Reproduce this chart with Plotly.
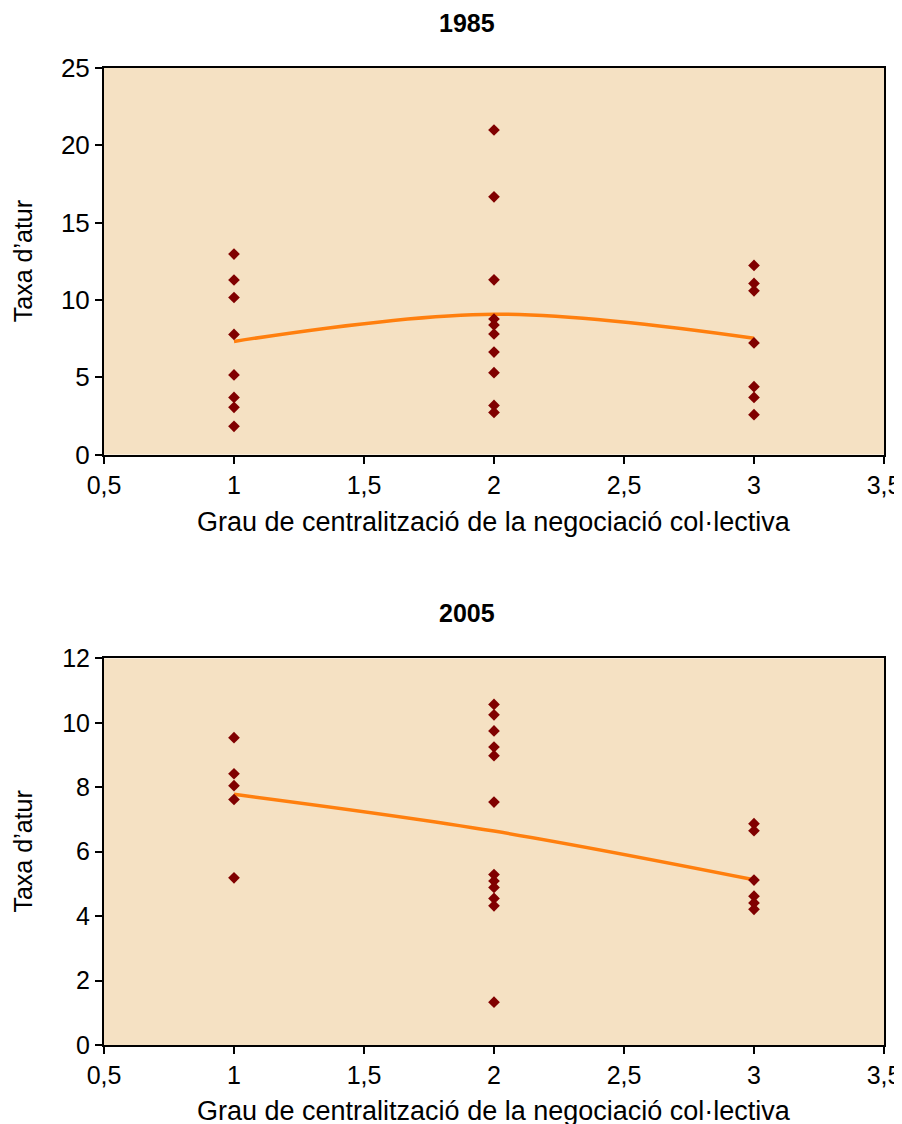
import plotly.graph_objects as go
from plotly.subplots import make_subplots

# 1985 data
x85 = [1]*8 + [2]*10 + [3]*7
y85 = [12.97, 11.29, 10.16, 7.77, 5.15, 3.70, 3.06, 1.83,
       20.99, 16.67, 11.30, 8.77, 8.38, 7.80, 6.63, 5.30, 3.18, 2.73,
       12.23, 11.07, 10.59, 7.22, 4.39, 3.70, 2.58]
trend_x85 = [1, 2, 3]
trend_y85 = [7.32, 9.08, 7.52]

# 2005 data
x05 = [1]*5 + [2]*12 + [3]*6
y05 = [9.54, 8.42, 8.05, 7.62, 5.19,
       10.57, 10.25, 9.75, 9.25, 8.98, 7.54, 5.29, 5.09, 4.89, 4.55, 4.32, 1.33,
       6.87, 6.65, 5.12, 4.62, 4.41, 4.21]
trend_x05 = [1, 2, 3]
trend_y05 = [7.78, 6.64, 5.13]

x_ticks = [0.5, 1, 1.5, 2, 2.5, 3, 3.5]
y_ticks85 = [0, 5, 10, 15, 20, 25]
y_ticks05 = [0, 2, 4, 6, 8, 10, 12]

titles = ["1985", "2005"]
x_title = "Grau de centralització de la negociació col·lectiva"
y_title = "Taxa d’atur"

BG = "#F5E1C3"
MK = "#800000"
LN = "#FF7F0E"
FONT = "Liberation Sans, Arial, sans-serif"

fig = make_subplots(rows=2, cols=1)

for row, (xs, ys, tx, ty) in enumerate([(x85, y85, trend_x85, trend_y85),
                                        (x05, y05, trend_x05, trend_y05)], start=1):
    fig.add_trace(go.Scatter(x=tx, y=ty, mode="lines", line=dict(color=LN, width=3.5, shape="spline"),
                             showlegend=False, hoverinfo="skip"), row=row, col=1)
    fig.add_trace(go.Scatter(x=xs, y=ys, mode="markers",
                             marker=dict(symbol="diamond", size=9, color=MK),
                             showlegend=False), row=row, col=1)

axis_common = dict(showline=True, linecolor="black", linewidth=2, mirror=True,
                   ticks="outside", ticklen=7, tickwidth=2, tickcolor="black",
                   showgrid=False, zeroline=False)

fig.update_xaxes(**axis_common, range=[0.5, 3.5], tickvals=x_ticks,
                 tickfont=dict(size=25, color="black", family=FONT))
fig.update_yaxes(**axis_common)
fig.update_yaxes(range=[0, 25], tickvals=y_ticks85, tickfont=dict(size=26, color="black", family=FONT),
                 domain=[0.6043, 1.0], row=1, col=1)
fig.update_yaxes(range=[0, 12], tickvals=y_ticks05, tickfont=dict(size=25, color="black", family=FONT),
                 domain=[0.0, 0.3957], row=2, col=1)

ann = []
for t, ty in zip(titles, [1.046, 0.4417]):
    ann.append(dict(text="<b>" + t + "</b>", x=0.466, y=ty, xref="paper", yref="paper",
                    showarrow=False, font=dict(size=25, color="black", family=FONT),
                    xanchor="center", yanchor="middle"))
for ty in [0.5358, -0.0675]:
    ann.append(dict(text=x_title, x=0.5, y=ty, xref="paper", yref="paper", showarrow=False,
                    font=dict(size=27, color="black", family=FONT), xanchor="center", yanchor="middle"))
for ty in [0.8021, 0.1979]:
    ann.append(dict(text=y_title, x=-0.104, y=ty, xref="paper", yref="paper", showarrow=False,
                    textangle=-90, font=dict(size=25, color="black", family=FONT),
                    xanchor="center", yanchor="middle"))

fig.update_layout(width=902, height=1124, margin=dict(l=96, r=26, t=60, b=87, autoexpand=False),
                  plot_bgcolor=BG, paper_bgcolor="white", separators=", ",
                  annotations=ann, font=dict(family=FONT, color="black"))

fig.write_html("out.html")
